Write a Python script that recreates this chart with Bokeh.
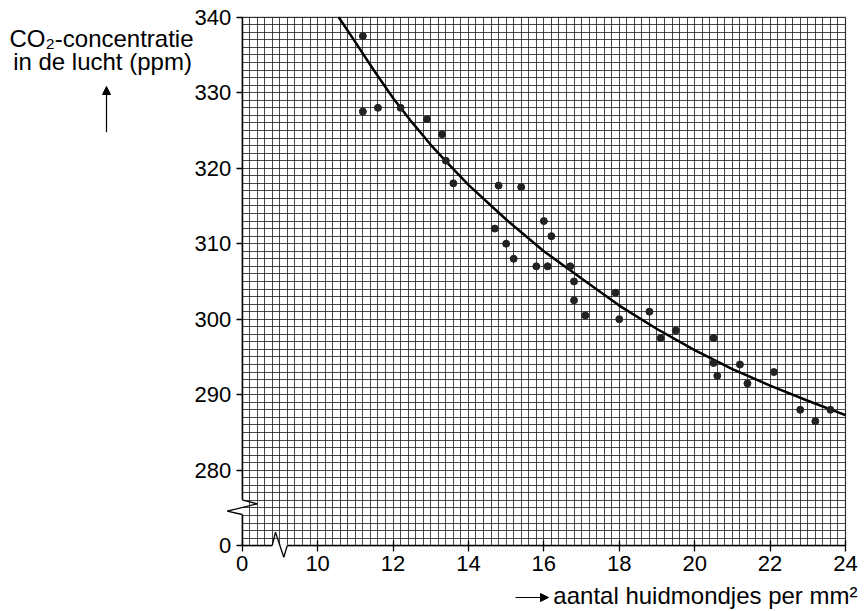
from bokeh.plotting import figure
from bokeh.models import (FixedTicker, SingleIntervalTicker, Label, Arrow, NormalHead,
                          Range1d, BoxAnnotation)
from bokeh.embed import file_html
from bokeh.resources import INLINE

# ---- data ----
stomata = [11.2, 11.2, 11.6, 12.2, 12.9, 13.3, 13.4, 13.6, 14.8, 15.4,
           14.7, 16.0, 15.0, 16.2, 15.2, 15.8, 16.1, 16.7, 16.8, 16.8,
           17.1, 17.9, 18.0, 18.8, 19.1, 19.5, 20.5, 20.5, 20.6, 21.2,
           21.4, 22.1, 22.8, 23.2, 23.6]
co2 = [337.5, 327.5, 328.0, 328.0, 326.5, 324.5, 321.0, 318.0, 317.7, 317.5,
       312.0, 313.0, 310.0, 311.0, 308.0, 307.0, 307.0, 307.0, 305.0, 302.5,
       300.5, 303.5, 300.0, 301.0, 297.5, 298.5, 297.5, 294.2, 292.5, 294.0,
       291.5, 293.0, 288.0, 286.5, 288.0]

fit_stomata = [10.56, 11.0, 11.5, 12.0, 12.5, 13.0, 13.5, 14.0, 15.0, 16.0,
               17.0, 18.0, 19.0, 20.0, 21.0, 22.0, 23.0, 24.0]
fit_co2 = [340.0, 336.7, 332.9, 329.3, 326.1, 323.1, 320.4, 317.8, 313.2, 309.0,
           305.4, 301.8, 298.7, 295.9, 293.4, 291.2, 289.2, 287.3]

x_tick_values = [0, 10, 12, 14, 16, 18, 20, 22, 24]
y_tick_values = [0, 280, 290, 300, 310, 320, 330, 340]

# axis breaks: the value 0 is drawn where 8 (x) and 270 (y) would be
X_ZERO_AT = 8
Y_ZERO_AT = 270
X_END, Y_END = 24, 340


def bx(v):
    return X_ZERO_AT if v == 0 else v


def by(v):
    return Y_ZERO_AT if v == 0 else v


FONT = "Liberation Sans"
W, H = 864, 611
# pixel position of the graph paper inside the canvas
GL, GR, GT, GB = 241.7, 845.0, 16.7, 545.2
sx = (GR - GL) / (X_END - X_ZERO_AT)
sy = (GB - GT) / (Y_END - Y_ZERO_AT)
x_range = Range1d(X_ZERO_AT - GL / sx, X_END + (W - GR) / sx)
y_range = Range1d(Y_ZERO_AT - (H - GB) / sy, Y_END + GT / sy)

p = figure(width=W, height=H, x_range=x_range, y_range=y_range,
           output_backend="svg", toolbar_location=None,
           min_border=0)
p.background_fill_color = "white"
p.border_fill_color = "white"
p.outline_line_color = None


def dx(px):
    return X_ZERO_AT + (px - GL) / sx


def dy(py):
    return Y_END - (py - GT) / sy


# grid paper
p.xgrid.ticker = SingleIntervalTicker(interval=0.2, num_minor_ticks=0)
p.ygrid.ticker = SingleIntervalTicker(interval=1, num_minor_ticks=0)
p.xgrid.bounds = (X_ZERO_AT, X_END)
p.ygrid.bounds = (Y_ZERO_AT, Y_END)
p.xgrid.cross_bounds = (Y_ZERO_AT, Y_END)
p.ygrid.cross_bounds = (X_ZERO_AT, X_END)
for g in (p.xgrid, p.ygrid):
    g.grid_line_color = "#1a1a1a"
    g.grid_line_alpha = 0.8
    g.grid_line_width = 1

p.add_layout(BoxAnnotation(left=X_ZERO_AT, right=X_END, bottom=Y_ZERO_AT, top=Y_END,
                           fill_alpha=0, line_color="black", line_width=1.5))

# axes
p.xaxis.fixed_location = Y_ZERO_AT
p.yaxis.fixed_location = X_ZERO_AT
p.xaxis.bounds = (X_ZERO_AT, X_END)
p.yaxis.bounds = (Y_ZERO_AT, Y_END)
p.xaxis.ticker = FixedTicker(ticks=[bx(v) for v in x_tick_values])
p.yaxis.ticker = FixedTicker(ticks=[by(v) for v in y_tick_values])
p.xaxis.major_label_overrides = {bx(v): str(v) for v in x_tick_values}
p.yaxis.major_label_overrides = {by(v): str(v) for v in y_tick_values}
for ax in (p.xaxis, p.yaxis):
    ax.axis_line_color = "black"
    ax.axis_line_width = 1.5
    ax.major_tick_line_color = "black"
    ax.major_tick_line_width = 1.3
    ax.minor_tick_line_color = None
    ax.major_label_text_font = FONT
    ax.major_label_text_font_size = "22px"
    ax.major_label_text_color = "black"
p.xaxis.major_tick_in = 5
p.xaxis.major_tick_out = 6
p.xaxis.major_label_standoff = 4
p.yaxis.major_tick_in = 0
p.yaxis.major_tick_out = 6
p.yaxis.major_label_standoff = 5

# fitted curve and data
p.line(fit_stomata, fit_co2, line_color="black", line_width=2.5)
p.scatter(stomata, co2, size=7, fill_color="#222222", line_color="#222222")


# axis break marks
def seg(x0, y0, x1, y1, color="black", w=1.3):
    p.add_layout(Arrow(end=None, start=None, x_start=x0, y_start=y0, x_end=x1, y_end=y1,
                       line_color=color, line_width=w))


# y-axis break
seg(X_ZERO_AT, dy(499.3), X_ZERO_AT, dy(514.0), color="white", w=3)
seg(X_ZERO_AT, dy(499.3), dx(256.7), dy(503.3))
seg(dx(256.7), dy(503.3), dx(226.7), dy(510.7))
seg(dx(226.7), dy(510.7), X_ZERO_AT, dy(514.0))
# x-axis break
seg(dx(271.7), Y_ZERO_AT, dx(286.7), Y_ZERO_AT, color="white", w=3)
seg(dx(271.7), Y_ZERO_AT, dx(275.0), dy(531.7))
seg(dx(275.0), dy(531.7), dx(283.3), dy(556.7))
seg(dx(283.3), dy(556.7), dx(286.7), Y_ZERO_AT)

# axis titles
TITLE_SIZE = "24px"
p.add_layout(Label(x=dx(101), y=dy(37.5), text="CO₂-concentratie", text_align="center",
                   text_baseline="middle", text_font=FONT, text_font_size=TITLE_SIZE,
                   text_color="black"))
p.add_layout(Label(x=dx(102), y=dy(61), text="in de lucht (ppm)", text_align="center",
                   text_baseline="middle", text_font=FONT, text_font_size=TITLE_SIZE,
                   text_color="black"))
p.add_layout(Arrow(end=NormalHead(size=8, fill_color="black", line_color="black"),
                   x_start=dx(106), y_start=dy(131.7), x_end=dx(106), y_end=dy(86),
                   line_color="black", line_width=1.2))

p.add_layout(Label(x=dx(857), y=dy(595), text="aantal huidmondjes per mm²", text_align="right",
                   text_baseline="middle", text_font=FONT, text_font_size=TITLE_SIZE,
                   text_color="black"))
p.add_layout(Arrow(end=NormalHead(size=8, fill_color="black", line_color="black"),
                   x_start=dx(515), y_start=dy(597), x_end=dx(548), y_end=dy(597),
                   line_color="black", line_width=1.2))

open("out.html", "w").write(file_html(p, INLINE))
